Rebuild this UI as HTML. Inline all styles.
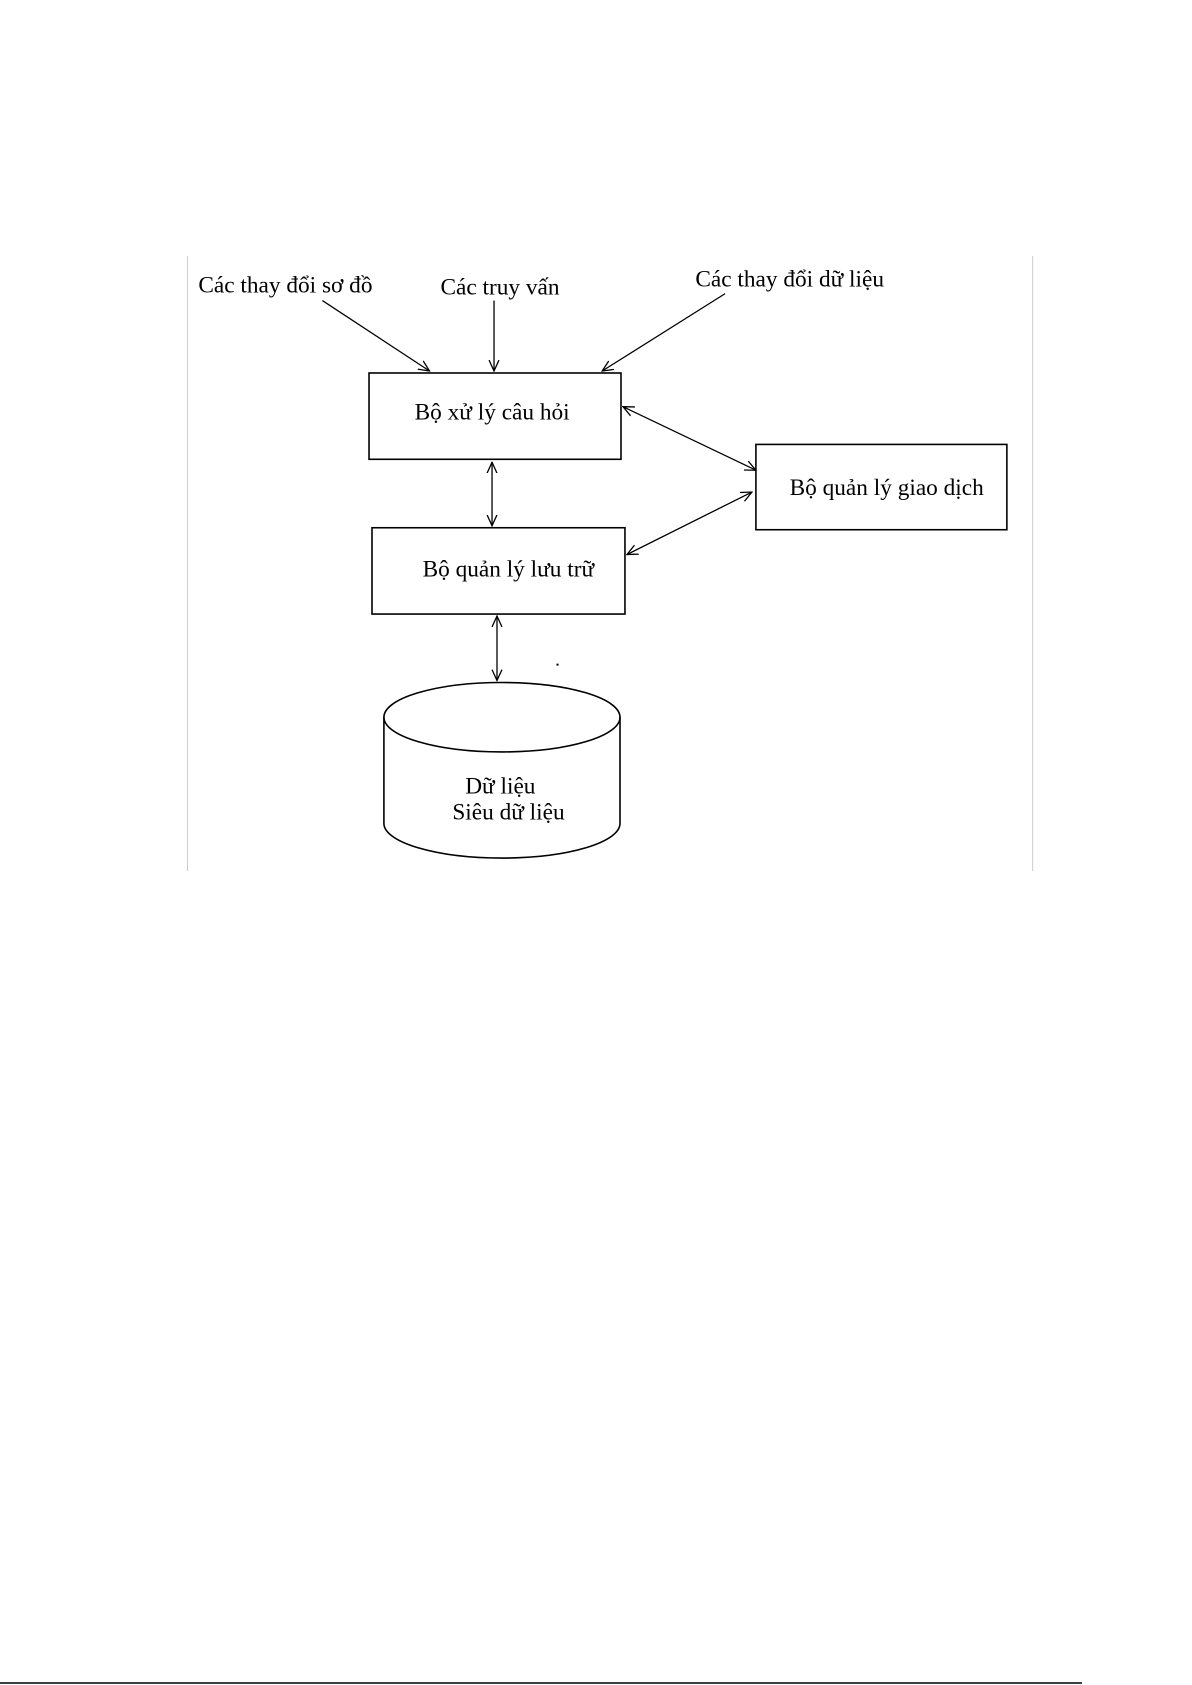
<!DOCTYPE html>
<html><head><meta charset="utf-8"><style>
html,body{margin:0;padding:0;background:#fff;}
svg{display:block}
text{font-family:"Liberation Serif",serif;font-size:23.5px;fill:#000}
</style></head><body>
<svg width="1192" height="1685" viewBox="0 0 1192 1685" xmlns="http://www.w3.org/2000/svg">
<defs>
<marker id="a" viewBox="0 0 12 12" refX="11" refY="6" markerWidth="12" markerHeight="12" markerUnits="userSpaceOnUse" orient="auto-start-reverse">
<path d="M0,1 L11,6 L0,11" fill="none" stroke="#000" stroke-width="1.3"/>
</marker>
</defs>
<g transform="scale(0.992)">
<line x1="189" y1="258" x2="189" y2="878" stroke="#ccc" stroke-width="1"/>
<line x1="1041" y1="258" x2="1041" y2="878" stroke="#ccc" stroke-width="1"/>
<g fill="none" stroke="#000" stroke-width="1.6">
<rect x="372" y="376" width="254" height="87"/>
<rect x="375" y="532" width="255" height="87"/>
<rect x="762" y="448" width="253" height="86"/>
<path d="M387,723 L387,830 A119,35 0 0 0 625,830 L625,723"/>
<ellipse cx="506" cy="723" rx="119" ry="35"/>
</g>
<g stroke="#000" stroke-width="1.3" fill="none">
<line x1="325" y1="303" x2="433" y2="374" marker-end="url(#a)"/>
<line x1="498" y1="303" x2="498" y2="374" marker-end="url(#a)"/>
<line x1="731" y1="296" x2="607" y2="374" marker-end="url(#a)"/>
<line x1="628" y1="410" x2="762" y2="474" marker-start="url(#a)" marker-end="url(#a)"/>
<line x1="632" y1="559" x2="758" y2="496" marker-start="url(#a)" marker-end="url(#a)"/>
<line x1="496" y1="466" x2="496" y2="530" marker-start="url(#a)" marker-end="url(#a)"/>
<line x1="501" y1="621" x2="501" y2="686" marker-start="url(#a)" marker-end="url(#a)"/>
</g>
<rect x="561" y="669" width="2" height="2" fill="#000"/>
<text x="200" y="295">Các thay đổi sơ đồ</text>
<text x="444" y="297">Các truy vấn</text>
<text x="701" y="289">Các thay đổi dữ liệu</text>
<text x="418" y="423">Bộ xử lý câu hỏi</text>
<text x="796" y="499">Bộ quản lý giao dịch</text>
<text x="426" y="581">Bộ quản lý lưu trữ</text>
<text x="469" y="800">Dữ liệu</text>
<text x="456" y="826">Siêu dữ liệu</text>
</g>
<line x1="0" y1="1683" x2="1082" y2="1683" stroke="#000" stroke-width="1.5"/>
</svg>
</body></html>
